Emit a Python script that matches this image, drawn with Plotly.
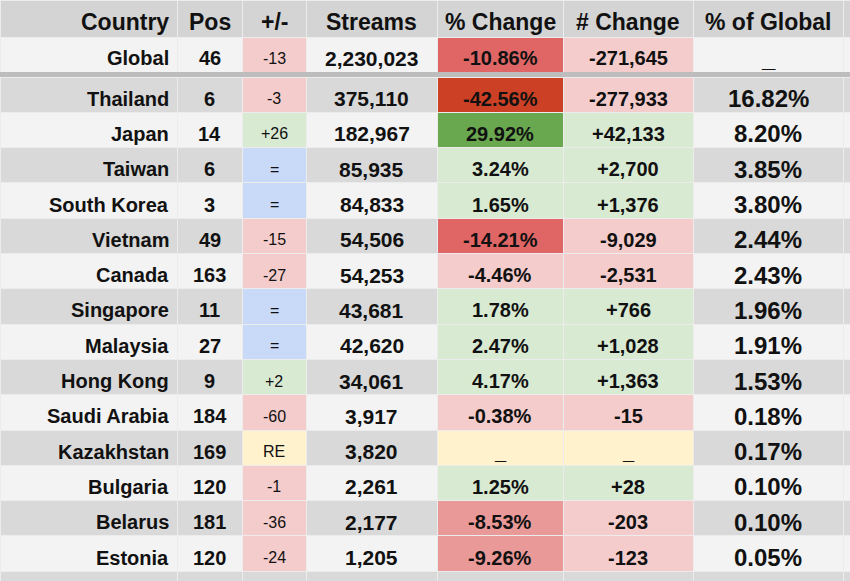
import plotly.graph_objects as go

headers = ["Country", "Pos", "+/-", "Streams", "% Change", "# Change", "% of Global"]

global_row = ["Global", "46", "-13", "2,230,023", "-10.86%", "-271,645", "_"]

countries = ["Thailand", "Japan", "Taiwan", "South Korea", "Vietnam", "Canada", "Singapore",
             "Malaysia", "Hong Kong", "Saudi Arabia", "Kazakhstan", "Bulgaria", "Belarus", "Estonia"]
pos = ["6", "14", "6", "3", "49", "163", "11", "27", "9", "184", "169", "120", "181", "120"]
move = ["-3", "+26", "=", "=", "-15", "-27", "=", "=", "+2", "-60", "RE", "-1", "-36", "-24"]
streams = ["375,110", "182,967", "85,935", "84,833", "54,506", "54,253", "43,681", "42,620",
           "34,061", "3,917", "3,820", "2,261", "2,177", "1,205"]
pct_change = ["-42.56%", "29.92%", "3.24%", "1.65%", "-14.21%", "-4.46%", "1.78%", "2.47%",
              "4.17%", "-0.38%", "_", "1.25%", "-8.53%", "-9.26%"]
num_change = ["-277,933", "+42,133", "+2,700", "+1,376", "-9,029", "-2,531", "+766", "+1,028",
              "+1,363", "-15", "_", "+28", "-203", "-123"]
pct_global = ["16.82%", "8.20%", "3.85%", "3.80%", "2.44%", "2.43%", "1.96%", "1.91%",
              "1.53%", "0.18%", "0.17%", "0.10%", "0.10%", "0.05%"]

# ---- styling -----------------------------------------------------------------
DARK = "#d9d9d9"
LIGHT = "#f3f3f3"
HEADER = "#d4d4d4"
PINK = "#f4cccc"
GREEN = "#d9ead3"
BLUE = "#c9daf8"
YELLOW = "#fff2cc"
LINE = "#ececec"
TEXT = "#111111"
FONT = "Liberation Sans, Arial, sans-serif"


def move_color(s):
    if s == "=":
        return BLUE
    if s.startswith("+"):
        return GREEN
    if s.startswith("-"):
        return PINK
    return YELLOW


def pct_color(s):
    if s == "_":
        return YELLOW
    v = float(s.replace("%", ""))
    if v >= 20:
        return "#6aa84f"
    if v >= 0:
        return GREEN
    if v > -5:
        return PINK
    if v > -10:
        return "#ea9999"
    if v > -20:
        return "#e06666"
    return "#cc4125"


def num_color(s):
    if s == "_":
        return YELLOW
    return GREEN if s.startswith("+") else PINK


widths = [177, 65, 64, 131, 126, 130, 150, 7]
sizes = [20, 20, 16, 21, 20, 20, 24]
bold = [True, True, False, True, True, True, True]

W, H = 850, 581
HEAD_TOP, HEAD_H = 0, 37
GLOBAL_H = 35
BODY_TOP = 77
ROW_H = 35.3
TEXT_SHIFT = 4          # text sits a little below the row centre
PAD = 6

edges = [0]
for w in widths:
    edges.append(edges[-1] + w)


def py(ypx):
    return 1 - ypx / H


def px(xpx):
    return xpx / W


# ---- table 1: header + Global row (fills / grid) ----------------------------
g_fill = [LIGHT, LIGHT, move_color(global_row[2]), LIGHT, pct_color(global_row[4]),
          num_color(global_row[5]), LIGHT, LIGHT]
t1 = go.Table(
    domain=dict(x=[0, 1], y=[py(HEAD_TOP + HEAD_H + GLOBAL_H), py(HEAD_TOP)]),
    columnwidth=widths,
    header=dict(values=[""] * 8, fill=dict(color=HEADER),
                line=dict(color=LINE, width=1), height=HEAD_H),
    cells=dict(values=[[""]] * 8, fill=dict(color=g_fill),
               line=dict(color=LINE, width=1), height=GLOBAL_H),
)

# ---- table 2: country rows (fills / grid) ------------------------------------
n = len(countries)
stripe = [DARK if i % 2 == 0 else LIGHT for i in range(n + 1)]
fills = [stripe, stripe,
         [move_color(s) for s in move] + [DARK],
         stripe,
         [pct_color(s) for s in pct_change] + [DARK],
         [num_color(s) for s in num_change] + [DARK],
         stripe, stripe]

t2 = go.Table(
    domain=dict(x=[0, 1], y=[0, py(BODY_TOP)]),
    columnwidth=widths,
    header=dict(values=[""] * 8, fill=dict(color=[f[0] for f in fills]),
                line=dict(color=LINE, width=1), height=ROW_H),
    cells=dict(values=[[""] * n] * 8, fill=dict(color=[f[1:] for f in fills]),
               line=dict(color=LINE, width=1), height=ROW_H),
)

fig = go.Figure([t1, t2])

# ---- text -----------------------------------------------------------------------


def add_text(txt, col, yc, size, is_bold, right=False):
    label = "<b>" + txt + "</b>" if is_bold else txt
    if right:
        x, anchor = px(edges[col + 1] - PAD), "right"
    else:
        x, anchor = px((edges[col] + edges[col + 1]) / 2), "center"
    fig.add_annotation(x=x, y=py(yc), xref="paper", yref="paper", text=label,
                       showarrow=False, xanchor=anchor, yanchor="middle",
                       font=dict(family=FONT, size=size, color=TEXT))


for c, h in enumerate(headers):
    add_text(h, c, HEAD_TOP + HEAD_H / 2 + 3.5, 23, True, right=(c == 0))

yc = HEAD_TOP + HEAD_H + GLOBAL_H / 2 + TEXT_SHIFT
for c, v in enumerate(global_row):
    add_text(v, c, yc, sizes[c], bold[c], right=(c == 0))

columns = [countries, pos, move, streams, pct_change, num_change, pct_global]
for r in range(n):
    yc = BODY_TOP + ROW_H * (r + 0.5) + TEXT_SHIFT
    for c, col in enumerate(columns):
        add_text(col[r], c, yc, sizes[c], bold[c], right=(c == 0))

fig.update_layout(
    width=W, height=H,
    margin=dict(l=0, r=0, t=0, b=0),
    paper_bgcolor="#bdbdbd",
)
fig.write_html("out.html", config={"displayModeBar": False},
               post_script="document.body.style.margin='0';")
